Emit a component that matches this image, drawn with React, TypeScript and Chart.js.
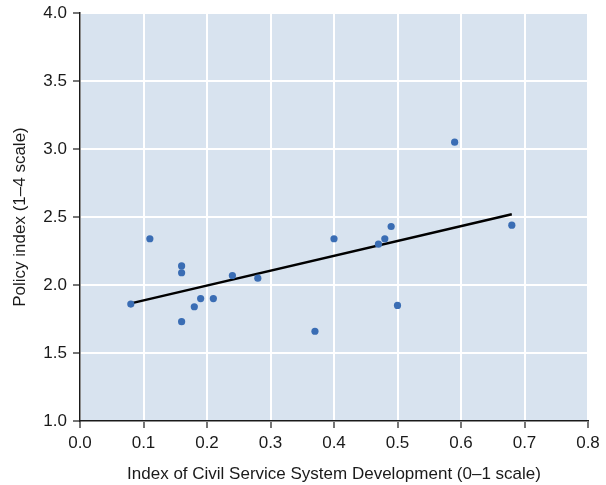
import React, { useEffect, useRef } from "react";
import { Chart, registerables } from "chart.js";

Chart.register(...registerables);

// Civil service development index (x) vs. policy index (y), one point per country
const civilServiceIndex = [0.08, 0.11, 0.16, 0.16, 0.16, 0.18, 0.19, 0.21, 0.24, 0.28, 0.37, 0.40, 0.47, 0.48, 0.49, 0.50, 0.59, 0.68];
const policyIndex = [1.86, 2.34, 2.14, 2.09, 1.73, 1.84, 1.90, 1.90, 2.07, 2.05, 1.66, 2.34, 2.30, 2.34, 2.43, 1.85, 3.05, 2.44];

// Fitted trend line end points
const fitX = [0.08, 0.68];
const fitY = [1.865, 2.52];

const xTicks = [0, 0.1, 0.2, 0.3, 0.4, 0.5, 0.6, 0.7, 0.8];
const yTicks = [1.0, 1.5, 2.0, 2.5, 3.0, 3.5, 4.0];

const FONT = "'Liberation Sans', Arial, Helvetica, sans-serif";

const plotBackground = {
  id: "plotBackground",
  beforeDraw(chart: any) {
    const { ctx, chartArea } = chart;
    ctx.save();
    ctx.fillStyle = "#d8e3ef";
    ctx.fillRect(chartArea.left, chartArea.top, chartArea.right - chartArea.left, chartArea.bottom - chartArea.top);
    ctx.restore();
  },
};

export default function App() {
  const canvasRef = useRef<HTMLCanvasElement | null>(null);

  useEffect(() => {
    if (!canvasRef.current) return;
    const chart = new Chart(canvasRef.current, {
      type: "scatter",
      data: {
        datasets: [
          {
            label: "Trend",
            data: fitX.map((x, i) => ({ x, y: fitY[i] })),
            showLine: true,
            borderColor: "#000000",
            borderWidth: 2.5,
            pointRadius: 0,
            pointHoverRadius: 0,
            order: 1,
          },
          {
            label: "Countries",
            data: civilServiceIndex.map((x, i) => ({ x, y: policyIndex[i] })),
            backgroundColor: "#3a6db4",
            borderColor: "#3a6db4",
            borderWidth: 0,
            pointRadius: 3.6,
            order: 0,
          },
        ],
      },
      options: {
        animation: false,
        responsive: false,
        layout: { padding: { top: 13, right: 18, left: 0, bottom: 0 } },
        plugins: {
          legend: { display: false },
          tooltip: { enabled: false },
        },
        scales: {
          x: {
            type: "linear",
            min: 0,
            max: 0.8,
            afterBuildTicks: (scale: any) => {
              scale.ticks = xTicks.map((v) => ({ value: v }));
            },
            afterFit: (scale: any) => {
              scale.height = 64;
              scale.paddingLeft = 0;
              scale.paddingRight = 0;
            },
            ticks: {
              color: "#1a1a1a",
              font: { family: FONT, size: 17 },
              padding: 5,
              maxRotation: 0,
              callback: (v: any) => Number(v).toFixed(1),
            },
            grid: {
              color: "#ffffff",
              lineWidth: 2,
              tickColor: "#1a1a1a",
              tickLength: 7,
              tickWidth: 1.2,
              drawOnChartArea: true,
            },
            border: { color: "#1a1a1a", width: 1.5 },
            title: {
              display: true,
              text: "Index of Civil Service System Development (0–1 scale)",
              color: "#1a1a1a",
              font: { family: FONT, size: 17 },
              padding: { top: 4, bottom: 0 },
            },
          },
          y: {
            type: "linear",
            min: 1,
            max: 4,
            afterBuildTicks: (scale: any) => {
              scale.ticks = yTicks.map((v) => ({ value: v }));
            },
            afterFit: (scale: any) => {
              scale.width = 80;
              scale.paddingTop = 0;
              scale.paddingBottom = 0;
            },
            ticks: {
              color: "#1a1a1a",
              font: { family: FONT, size: 17 },
              padding: 6,
              callback: (v: any) => Number(v).toFixed(1),
            },
            grid: {
              color: "#ffffff",
              lineWidth: 2,
              tickColor: "#1a1a1a",
              tickLength: 7,
              tickWidth: 1.2,
            },
            border: { color: "#1a1a1a", width: 1.5 },
            title: {
              display: true,
              text: "Policy index (1–4 scale)",
              color: "#1a1a1a",
              font: { family: FONT, size: 17 },
              padding: { top: 10, bottom: 4 },
            },
          },
        },
      },
      plugins: [plotBackground],
    });
    return () => chart.destroy();
  }, []);

  return (
    <div style={{ position: "fixed", left: 0, top: 0, width: 606, height: 485, background: "#ffffff" }}>
      <canvas ref={canvasRef} width={606} height={485} style={{ width: 606, height: 485, display: "block" }} />
    </div>
  );
}
